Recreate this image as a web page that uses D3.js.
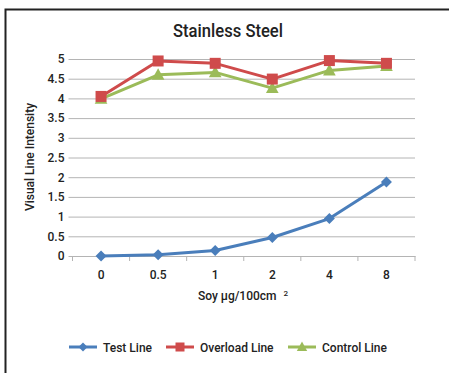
<!DOCTYPE html>
<html>
<head>
<meta charset="utf-8">
<script src="https://cdn.jsdelivr.net/npm/d3@7"></script>
<style>
  html, body { margin: 0; padding: 0; background: #fff; }
  svg { display: block; }
  text { font-family: Roboto, "Liberation Sans", sans-serif; font-weight: 500; fill: #222; }
</style>
</head>
<body>
<svg id="chart" width="449" height="373"></svg>
<script>
// Soy concentration levels (µg/100cm²)
const categories = ["0", "0.5", "1", "2", "4", "8"];
const testLine = [0, 0.03, 0.14, 0.47, 0.95, 1.88];
const overloadLine = [4.05, 4.95, 4.89, 4.49, 4.96, 4.89];
const controlLine = [3.99, 4.6, 4.66, 4.26, 4.71, 4.82];
const yTicks = [0, 0.5, 1, 1.5, 2, 2.5, 3, 3.5, 4, 4.5, 5];
const seriesNames = ["Test Line", "Overload Line", "Control Line"];

const series = [
  { name: seriesNames[0], values: testLine, color: "#4a7ebb", marker: "diamond" },
  { name: seriesNames[1], values: overloadLine, color: "#cf4b4b", marker: "square" },
  { name: seriesNames[2], values: controlLine, color: "#9bbb59", marker: "triangle" }
];

const svg = d3.select("#chart");
const margin = { left: 72.5, right: 34, top: 59, bottom: 117 };
const W = 449, H = 373;

// Frame around the chart (left and top edges visible)
svg.append("path")
  .attr("d", `M5.5,${H} V9.5 H${W}`)
  .attr("fill", "none").attr("stroke", "#222").attr("stroke-width", 2);

const x = d3.scaleBand().domain(categories).range([margin.left, W - margin.right]);
const y = d3.scaleLinear().domain([0, 5]).range([H - margin.bottom, margin.top]);

// Title
svg.append("text").attr("x", 228).attr("y", 37).attr("text-anchor", "middle")
  .attr("textLength", 110).attr("lengthAdjust", "spacingAndGlyphs")
  .style("font-size", "19px").text("Stainless Steel");

// Horizontal gridlines + y tick labels
const yAxis = d3.axisLeft(y).tickValues(yTicks).tickFormat(d3.format("")).tickSize(-(W - margin.right - margin.left)).tickPadding(8);
const gy = svg.append("g").attr("transform", `translate(${margin.left},0)`).call(yAxis);
gy.select(".domain").remove();
gy.selectAll(".tick line").attr("stroke", "#b4b4b4").attr("stroke-width", 1).attr("x1", -4);
gy.selectAll(".tick text").style("font-size", "12px").attr("fill", "#222");

// X axis with ticks between categories
const xAxis = d3.axisBottom(x).tickSize(0).tickPadding(14);
const gx = svg.append("g").attr("transform", `translate(0,${y(0)})`).call(xAxis);
gx.select(".domain").attr("stroke", "#b4b4b4");
gx.selectAll(".tick text").style("font-size", "12px").attr("fill", "#222");
const bounds = categories.map(c => x(c)).concat([x(categories[categories.length - 1]) + x.bandwidth()]);
gx.selectAll(".sep").data(bounds).join("line")
  .attr("x1", d => d).attr("x2", d => d).attr("y1", 0).attr("y2", 5)
  .attr("stroke", "#b4b4b4");

// Axis titles
const xt = svg.append("text").attr("x", 243).attr("y", 300).attr("text-anchor", "middle")
  .style("font-size", "12px");
xt.append("tspan").text("Soy μg/100cm ");
xt.append("tspan").attr("dx", 4).attr("dy", -4).style("font-size", "8px").text("2");

svg.append("text").attr("transform", "translate(34,157) rotate(-90)").attr("text-anchor", "middle")
  .style("font-size", "12px").text("Visual Line Intensity");

// Marker shapes
function marker(g, type, color, r) {
  if (type === "diamond") {
    g.append("path").attr("d", `M0,${-r} L${r},0 L0,${r} L${-r},0 Z`).attr("fill", color);
  } else if (type === "square") {
    g.append("rect").attr("x", -r).attr("y", -r).attr("width", 2 * r).attr("height", 2 * r).attr("fill", color);
  } else {
    g.append("path").attr("d", `M0,${-r * 1.2} L${r * 1.15},${r * 0.9} L${-r * 1.15},${r * 0.9} Z`).attr("fill", color);
  }
}

const cx = c => x(c) + x.bandwidth() / 2;
const line = d3.line().x((d, i) => cx(categories[i])).y(d => y(d));

// Draw series (control first so overload sits on top, test last)
[series[2], series[1], series[0]].forEach(s => {
  svg.append("path").datum(s.values).attr("d", line)
    .attr("fill", "none").attr("stroke", s.color).attr("stroke-width", 3).attr("stroke-linejoin", "round");
  s.values.forEach((v, i) => {
    const g = svg.append("g").attr("transform", `translate(${cx(categories[i])},${y(v)})`);
    marker(g, s.marker, s.color, 5.5);
  });
});

// Legend
const legendX = [69, 166, 288];
series.forEach((s, i) => {
  const g = svg.append("g").attr("transform", `translate(${legendX[i]},347)`);
  g.append("line").attr("x1", 0).attr("x2", 28).attr("stroke", s.color).attr("stroke-width", 3);
  const m = g.append("g").attr("transform", "translate(14,0)");
  marker(m, s.marker, s.color, 4.5);
  g.append("text").attr("x", 34).attr("y", 4.5).style("font-size", "12px").text(s.name);
});
</script>
</body>
</html>
